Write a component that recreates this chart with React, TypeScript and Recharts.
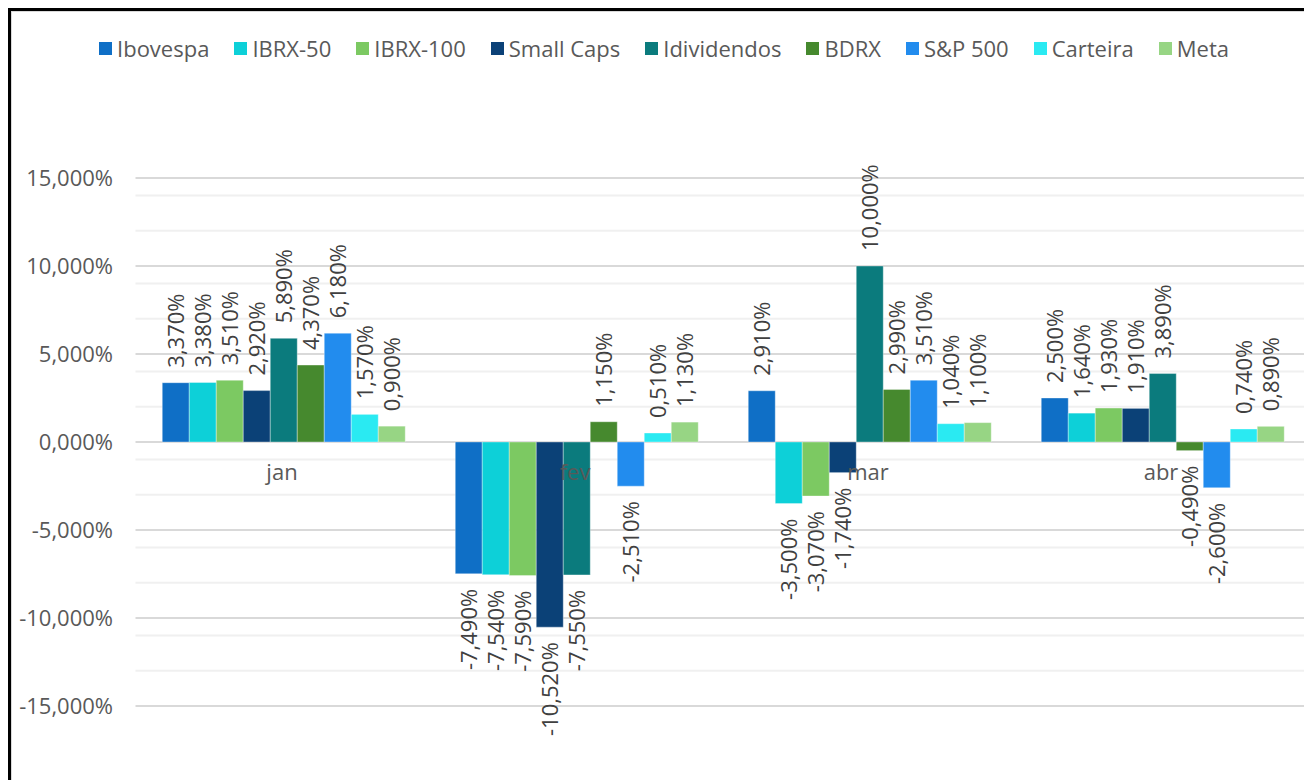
import React from 'react';
import { BarChart, Bar, XAxis, YAxis, CartesianGrid, LabelList } from 'recharts';

const months = ['jan', 'fev', 'mar', 'abr'];

const seriesNames = [
  'Ibovespa',
  'IBRX-50',
  'IBRX-100',
  'Small Caps',
  'Idividendos',
  'BDRX',
  'S&P 500',
  'Carteira',
  'Meta',
];

const seriesColors = [
  '#0F6FC6',
  '#0DD0D8',
  '#7CC962',
  '#0B4177',
  '#0B7B7D',
  '#46892E',
  '#228CEE',
  '#2AEAF2',
  '#97D584',
];

// monthly returns in %, one array per index, ordered like `months`
const ibovespa = [3.37, -7.49, 2.91, 2.5];
const ibrx50 = [3.38, -7.54, -3.5, 1.64];
const ibrx100 = [3.51, -7.59, -3.07, 1.93];
const smallCaps = [2.92, -10.52, -1.74, 1.91];
const idividendos = [5.89, -7.55, 10.0, 3.89];
const bdrx = [4.37, 1.15, 2.99, -0.49];
const sp500 = [6.18, -2.51, 3.51, -2.6];
const carteira = [1.57, 0.51, 1.04, 0.74];
const meta = [0.9, 1.13, 1.1, 0.89];

const seriesValues = [ibovespa, ibrx50, ibrx100, smallCaps, idividendos, bdrx, sp500, carteira, meta];

const yTicks = [-15, -10, -5, 0, 5, 10, 15];
const yMinor = [-14, -13, -12, -11, -9, -8, -7, -6, -4, -3, -2, -1, 1, 2, 3, 4, 6, 7, 8, 9, 11, 12, 13, 14];
const Y_MIN = -15;
const Y_MAX = 15;

const data = months.map((month, i) => {
  const row: Record<string, string | number> = { month };
  seriesNames.forEach((name, s) => {
    row[name] = seriesValues[s][i];
  });
  return row;
});

const CHART_W = 1320;
const CHART_H = 780;
const X_AXIS_H = 30;
const MARGIN = { top: 178, right: 12.5, bottom: 44, left: 35.5 };
const PLOT_H = CHART_H - MARGIN.top - MARGIN.bottom - X_AXIS_H;
const ZERO_Y = MARGIN.top + (PLOT_H * Y_MAX) / (Y_MAX - Y_MIN);

const FONT = '"Open Sans", "Noto Sans", sans-serif';
const AXIS_COLOR = '#595959';
const LABEL_COLOR = '#404040';

const fmtPct = (v: number) => `${v.toFixed(3).replace('.', ',')}%`;

// category names sit just under the zero line, like the spreadsheet axis
const MonthTick = ({ x, payload }: { x?: number; y?: number; payload?: { value: string } }) => (
  <text x={x} y={ZERO_Y + 38} textAnchor="middle" fill={AXIS_COLOR} fontSize={22} fontFamily={FONT}>
    {payload?.value}
  </text>
);

// vertical value label outside the end of each bar
// eslint-disable-next-line @typescript-eslint/no-explicit-any
const ValueLabel = (props: any) => {
  const { x, y, width, height, value } = props;
  const v = Number(value);
  const cx = Number(x) + Number(width) / 2;
  const top = Math.min(Number(y), Number(y) + Number(height));
  const bottom = Math.max(Number(y), Number(y) + Number(height));
  const gap = 15;
  const ay = v >= 0 ? top - gap : bottom + gap;
  return (
    <text
      x={cx}
      y={ay}
      dy="0.36em"
      transform={`rotate(-90, ${cx}, ${ay})`}
      textAnchor={v >= 0 ? 'start' : 'end'}
      fill={LABEL_COLOR}
      fontSize={22}
      fontFamily={FONT}
    >
      {fmtPct(v)}
    </text>
  );
};

const ChartLegend = () => (
  <div
    style={{
      position: 'absolute',
      left: 11,
      top: 31,
      width: 1306,
      display: 'flex',
      justifyContent: 'center',
      gap: 25,
      fontFamily: FONT,
      fontSize: 22,
      lineHeight: '34px',
      color: AXIS_COLOR,
      whiteSpace: 'nowrap',
    }}
  >
    {seriesNames.map((name, i) => (
      <span key={name} style={{ display: 'flex', alignItems: 'center' }}>
        <span style={{ width: 13, height: 13, background: seriesColors[i], marginRight: 5 }} />
        {name}
      </span>
    ))}
  </div>
);

export default function App() {
  return (
    <div
      style={{
        position: 'fixed',
        left: 0,
        top: 0,
        width: 1304,
        height: 780,
        overflow: 'hidden',
        background: '#fff',
        fontFamily: FONT,
      }}
    >
      <div
        style={{
          position: 'absolute',
          left: 8,
          top: 8,
          width: 1330,
          height: 800,
          border: '3px solid #000',
          boxSizing: 'border-box',
        }}
      >
        <div style={{ position: 'absolute', inset: 0, border: '1.5px solid #d9d9d9' }} />
      </div>
      <ChartLegend />
      <div style={{ position: 'absolute', left: 0, top: 0 }}>
        <BarChart
          width={CHART_W}
          height={CHART_H}
          data={data}
          margin={MARGIN}
          barCategoryGap="9.13%"
          barGap={0}
        >
          <CartesianGrid vertical={false} horizontalValues={yMinor} stroke="#f0f0f0" strokeWidth={2} />
          <CartesianGrid vertical={false} horizontalValues={yTicks} stroke="#d9d9d9" strokeWidth={2} />
          <XAxis
            dataKey="month"
            height={X_AXIS_H}
            axisLine={false}
            tickLine={false}
            tick={<MonthTick />}
            interval={0}
          />
          <YAxis
            width={100}
            domain={[Y_MIN, Y_MAX]}
            ticks={yTicks}
            allowDataOverflow
            axisLine={false}
            tickLine={false}
            tickSize={6}
            tickMargin={16.5}
            tickFormatter={fmtPct}
            tick={{ fill: AXIS_COLOR, fontSize: 22, fontFamily: FONT }}
          />
          {seriesNames.map((name, i) => (
            <Bar
              key={name}
              dataKey={name}
              fill={seriesColors[i]}
              stroke="#ffffff"
              strokeOpacity={0.35}
              strokeWidth={1}
              isAnimationActive={false}
            >
              <LabelList dataKey={name} content={<ValueLabel />} />
            </Bar>
          ))}
        </BarChart>
      </div>
    </div>
  );
}
